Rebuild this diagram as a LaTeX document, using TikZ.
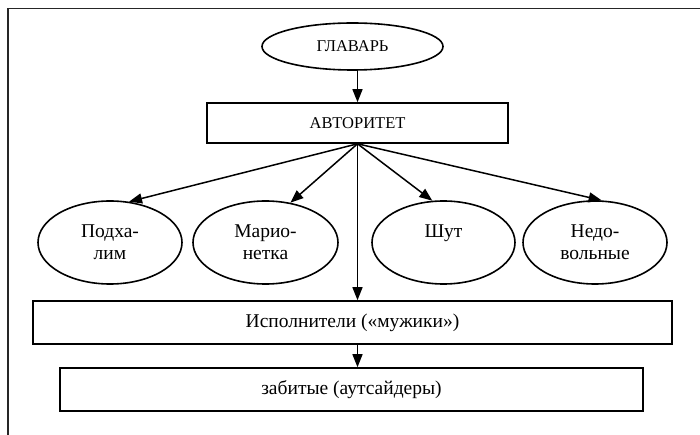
\documentclass[tikz,border=0pt]{standalone}
\usepackage{fontspec}
\setmainfont{Liberation Serif}
\usetikzlibrary{shapes.geometric,arrows.meta}
\tikzset{
  frameline/.style={line width=1.8pt, draw=black!85},
  oval/.style={draw, ellipse, line width=1.6pt, inner sep=0pt, align=center},
  rect/.style={draw, rectangle, line width=1.6pt, inner sep=0pt, align=center},
  arr/.style={line width=1.5pt, -{Triangle[length=13pt,width=10pt]}},
  big/.style={font=\fontsize{19.5}{22}\selectfont},
  mid/.style={font=\fontsize{16.5}{19}\selectfont}
}
\begin{document}
\begin{tikzpicture}[x=1pt,y=-1pt]
\useasboundingbox (0,0) rectangle (700,435);
\clip (0,0) rectangle (700,435);
\draw[frameline] (8,445) -- (8,8.5) -- (710,8.5);
\node[oval, mid, minimum width=181pt, minimum height=47pt] (gl) at (352.5,46.5) {ГЛАВАРЬ};
\node[rect, mid, minimum width=301pt, minimum height=40pt] (avt) at (357.5,123) {АВТОРИТЕТ};
\node[oval, big, minimum width=144pt, minimum height=83pt] (pod) at (110,242.5) {Подха-\\лим};
\node[oval, big, minimum width=145pt, minimum height=83pt] (mar) at (265.5,242.5) {Марио-\\нетка};
\node[oval, big, minimum width=143pt, minimum height=83pt] (shut) at (443.5,242.5) {Шут\\\vphantom{л}};
\node[oval, big, minimum width=144pt, minimum height=83pt] (ned) at (595,242.5) {Недо-\\вольные};
\node[rect, big, minimum width=639pt, minimum height=43pt] (isp) at (352.5,322.5) {Исполнители («мужики»)};
\node[rect, big, minimum width=583pt, minimum height=43pt] (zab) at (351.5,389.5) {забитые (аутсайдеры)};
\draw[arr] (gl.south -| avt.north) -- (avt.north);
\draw[arr] (avt.south) -- (pod.65);
\draw[arr] (avt.south) -- (mar.58);
\draw[arr] (avt.south) -- (shut.105);
\draw[arr] (avt.south) -- (ned.81);
\draw[arr] (avt.south) -- (avt.south |- isp.north);
\draw[arr] (isp.south -| avt.south) -- (zab.north -| avt.south);
\end{tikzpicture}
\end{document}
